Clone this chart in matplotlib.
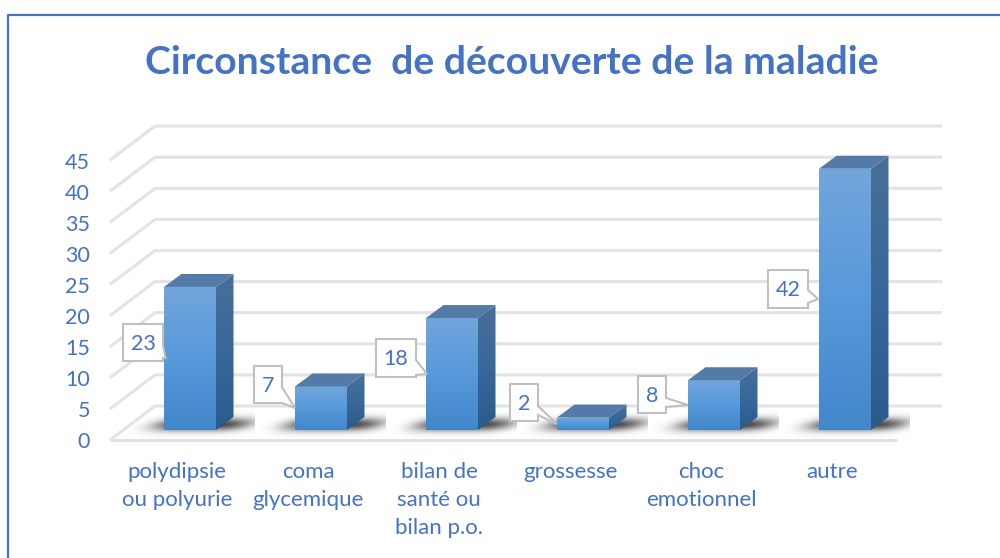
import numpy as np
import matplotlib
matplotlib.use("Agg")
import matplotlib.pyplot as plt
from matplotlib.patches import Polygon
from matplotlib.colors import LinearSegmentedColormap
from matplotlib.lines import Line2D

title = "Circonstance  de découverte de la maladie"
categories = ["polydipsie\nou polyurie", "coma\nglycemique", "bilan de\nsanté ou\nbilan p.o.",
              "grossesse", "choc\nemotionnel", "autre"]
values = [23, 7, 18, 2, 8, 42]
ticks = list(range(0, 50, 5))

W, H = 1000, 558
BLUE = "#4472C4"
GRID = "#E3E3E3"
plt.rcParams['font.family'] = ['Lato', 'DejaVu Sans']

fig = plt.figure(figsize=(W/100, H/100), dpi=100, facecolor="white")
ax = fig.add_axes([0, 0, 1, 1])
PX_U = 31.1 / 5   # pixels per value unit
PX_C = 131.0      # pixels per category
X0, Y0 = 190.0, 440.0   # pixel of first category centre / value 0 on front plane
ax.set_xlim(-X0/PX_C, (W-X0)/PX_C)
ax.set_ylim(-(H-Y0)/PX_U, Y0/PX_U)
ax.axis("off")

def off(x, y, dx, dy):
    """Shift a data point by a screen offset in px (dy positive = up)."""
    return (x + dx/PX_C, y + dy/PX_U)

def P(px, py):
    return ((px - X0)/PX_C, (Y0 - py)/PX_U)

WALL_DX, WALL_DY = 45, 34
BAR_OY = 10
BAR_DX, BAR_DY = 17.5, 13
HALF = 26 / PX_C
xl = -80 / PX_C
xr = (897 - X0) / PX_C

for t in ticks:
    a = off(xl, t, WALL_DX, WALL_DY); b = off(xr, t, WALL_DX, WALL_DY)
    if t == 0:
        ax.plot([xl, xr], [t, t], color=GRID, lw=2.2, solid_capstyle="butt", zorder=1)
    ax.plot([xl, a[0], b[0]], [t, a[1], b[1]], color=GRID, lw=2.2, zorder=1,
            solid_joinstyle="round", solid_capstyle="butt")
    ax.text(*off(xl, t, -20, -2.5), str(t), ha="right", va="center", color=BLUE, fontsize=15.5, zorder=6)

front_cm = LinearSegmentedColormap.from_list("f", ["#72A5DC", "#5799DA", "#4287CB"])
side_cm = LinearSegmentedColormap.from_list("s", ["#4A6F98", "#38689A", "#2A5B8B"])

# soft floor shadow sprite (a skewed, blurred blob), 130 x 34 px
sx = np.arange(-65, 65) + 0.5
sy = np.arange(-24, 10) + 0.5       # up negative; 0 is the base line of the bar
gx, gy = np.meshgrid(sx, sy)
u = (gx + 1.25 * gy - 6) / 48.0
v = (gy + 5.5) / 6.5
shadow = np.zeros(gx.shape + (4,))
shadow[..., :3] = 0.2
shadow[..., 3] = 0.9 * np.exp(-(u**2) ** 2) * np.exp(-(v**2))

for i, v_ in enumerate(values):
    c = P(X0 + i*PX_C - 65, Y0 - BAR_OY + 10)
    d = P(X0 + i*PX_C + 65, Y0 - BAR_OY - 24)
    ax.imshow(shadow, extent=(c[0], d[0], c[1], d[1]), origin="upper", aspect="auto", zorder=2,
              interpolation="bilinear")

    ll = off(i - HALF, 0, 0, BAR_OY)
    lr = off(i + HALF, 0, 0, BAR_OY)
    tl = off(i - HALF, v_, 0, BAR_OY)
    tr = off(i + HALF, v_, 0, BAR_OY)
    br2 = off(i + HALF, 0, BAR_DX, BAR_OY + BAR_DY)
    tr2 = off(i + HALF, v_, BAR_DX, BAR_OY + BAR_DY)
    tl2 = off(i - HALF, v_, BAR_DX, BAR_OY + BAR_DY)

    grad = np.linspace(0, 1, 128).reshape(-1, 1)
    fp = Polygon([ll, lr, tr, tl], closed=True, fc="none", ec="none", zorder=3)
    ax.add_patch(fp)
    im = ax.imshow(grad, cmap=front_cm, extent=(ll[0], lr[0], ll[1], tl[1]), origin="upper",
                   aspect="auto", zorder=3)
    im.set_clip_path(fp)
    sp = Polygon([lr, br2, tr2, tr], closed=True, fc="none", ec="none", zorder=3)
    ax.add_patch(sp)
    im2 = ax.imshow(grad, cmap=side_cm, extent=(lr[0], br2[0], lr[1], tr2[1]), origin="upper",
                    aspect="auto", zorder=3)
    im2.set_clip_path(sp)
    ax.add_patch(Polygon([tl, tr, tr2, tl2], closed=True, fc="#547BA7", ec="none", zorder=3))

    ax.text(*off(i, 0, -13, -22.5), categories[i], ha="center", va="top", color=BLUE,
            fontsize=16, linespacing=1.49, zorder=6)

ax.set_xlim(-X0/PX_C, (W-X0)/PX_C)
ax.set_ylim(-(H-Y0)/PX_U, Y0/PX_U)

# data-label callouts, pixel layout: left, right, top, bottom, pointer start y, tip x, tip y, pointer end y
boxes = [(123, 163, 324, 361, 345, 165.5, 358, 358),
         (254, 282, 366, 403, 387, 295, 408, 403),
         (376, 416, 339, 377, 360, 427, 374, 375),
         (510, 538, 384, 421, 406, 557, 424, 415),
         (638, 666, 376, 413, 398, 688, 405, 407),
         (768, 808, 270, 308, 290, 818, 299, 303)]
for v_, (l, r, t, b, p0, tx, ty, p1) in zip(values, boxes):
    pts = [(l, t), (r, t), (r, p0), (tx, ty), (r, p1), (r, b), (l, b)]
    ax.add_patch(Polygon([P(*q) for q in pts], closed=True, fc="white", ec="#BFBFBF", lw=1.5, zorder=5,
                         joinstyle="miter"))
    ax.text(*P((l + r) / 2, (t + b) / 2 + 1), str(v_), ha="center", va="center", color=BLUE,
            fontsize=15.5, zorder=6)

ax.text(*P(511.5, 62), title, ha="center", va="center", color=BLUE, fontsize=28.2, fontweight="bold", zorder=6)

# chart frame
fig.add_artist(Line2D([8/W, 8/W, 1], [0, 1 - 14.5/H, 1 - 14.5/H], color=BLUE, lw=1.6))

fig.savefig("out.png", dpi=100)
